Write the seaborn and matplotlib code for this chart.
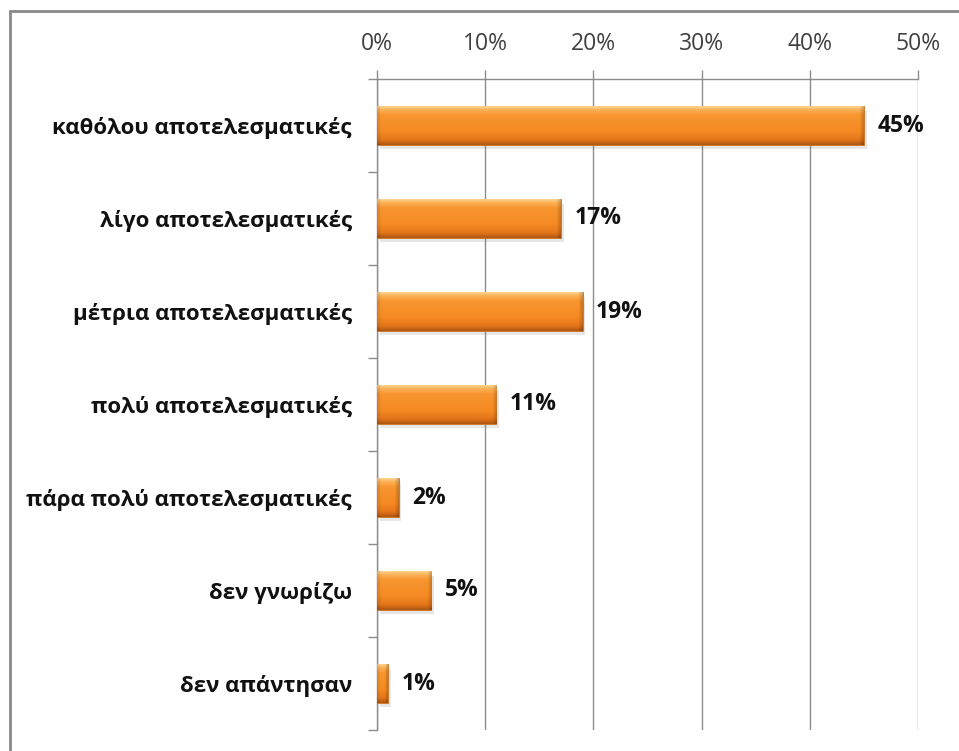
import numpy as np
import pandas as pd
import matplotlib
matplotlib.use("Agg")
import matplotlib.pyplot as plt
import matplotlib.patches as mpatches
import matplotlib.patheffects as pe
import seaborn as sns

# Survey answers and share of respondents (%)
categories = [
    "καθόλου αποτελεσματικές",
    "λίγο αποτελεσματικές",
    "μέτρια αποτελεσματικές",
    "πολύ αποτελεσματικές",
    "πάρα πολύ αποτελεσματικές",
    "δεν γνωρίζω",
    "δεν απάντησαν",
]
values = [45, 17, 19, 11, 2, 5, 1]
x_ticks = [0, 10, 20, 30, 40, 50]
x_tick_labels = ["0%", "10%", "20%", "30%", "40%", "50%"]

df = pd.DataFrame({"answer": categories, "share": values})

sns.set_theme(style="white")
plt.rcParams["font.family"] = ["Open Sans", "DejaVu Sans"]

W, H = 959, 751
fig = plt.figure(figsize=(W / 100, H / 100), dpi=100)
left, right, top, bottom = 377, 918, 79, 730
ax = fig.add_axes([left / W, (H - bottom) / H, (right - left) / W, (bottom - top) / H])

sns.barplot(data=df, x="share", y="answer", orient="h", color="#F38B2C",
            width=0.41, ax=ax, zorder=3, saturation=1)

ax.set_xlim(0, 50)
ax.set_ylim(len(categories) - 0.5, -0.5)

grid_col = "#8C8C8C"
ax.xaxis.tick_top()
ax.set_xticks(x_ticks)
ax.set_xticklabels(x_tick_labels, fontsize=16.5, color="#404040")
ax.tick_params(axis="x", which="major", direction="out", length=6.5, width=1,
               color=grid_col, pad=10)
ax.grid(axis="x", color=grid_col, linewidth=1, zorder=0)
ax.grid(axis="y", visible=False)

ax.set_yticks(range(len(categories)))
ax.set_yticklabels(categories, fontsize=16, fontweight="bold", color="#111111")
ax.set_yticks(np.arange(-0.5, len(categories), 1), minor=True)
ax.tick_params(axis="y", which="major", length=0, pad=18)
ax.tick_params(axis="y", which="minor", direction="out", length=6.5, width=1,
               color=grid_col, left=True)
ax.set_xlabel("")
ax.set_ylabel("")

for side in ["right", "bottom"]:
    ax.spines[side].set_visible(False)
for side in ["left", "top"]:
    ax.spines[side].set_color(grid_col)
    ax.spines[side].set_linewidth(1)

# Bevelled orange fill for every bar
fig.canvas.draw()
stops_t = np.array([0.0, 0.08, 0.22, 0.65, 0.87, 1.0])
stops_c = np.array([
    [253, 210, 140],
    [251, 178, 88],
    [248, 150, 48],
    [245, 138, 34],
    [228, 118, 26],
    [178, 88, 18],
]) / 255.0

for patch, val in zip(ax.patches, values):
    x0, y0 = patch.get_x(), patch.get_y()
    w, h = patch.get_width(), patch.get_height()
    (px0, py0), (px1, py1) = ax.transData.transform([(x0, y0), (x0 + w, y0 + h)])
    pw = max(int(round(abs(px1 - px0))), 2)
    ph = max(int(round(abs(py1 - py0))), 2)
    t = np.linspace(0, 1, ph)
    col = np.stack([np.interp(t, stops_t, stops_c[:, k]) for k in range(3)], axis=1)
    img = np.repeat(col[:, None, :], pw, axis=1)
    # darker left and right bevel edges
    edge = np.ones(pw)
    e = min(4, pw // 3)
    if e > 0:
        edge[:e] = np.linspace(0.88, 0.97, e)
        edge[-e:] = np.linspace(0.95, 0.82, e)
    img = np.clip(img * edge[None, :, None], 0, 1)
    patch.set_path_effects([pe.SimplePatchShadow(offset=(2, -3), alpha=0.18,
                                                 shadow_rgbFace="#777777"),
                            pe.Normal()])
    patch.set_edgecolor("#C8701E")
    patch.set_linewidth(0.6)
    im = ax.imshow(img, extent=[x0, x0 + w, y0 + h, y0], aspect="auto",
                   interpolation="bilinear", zorder=4)
    im.set_clip_path(patch)
    ax.text(x0 + w + 1.25, y0 + h / 2, f"{val}%", va="center", ha="left",
            fontsize=16.5, fontweight="bold", color="#111111", zorder=5)

ax.set_xlim(0, 50)
ax.set_ylim(len(categories) - 0.5, -0.5)

# Chart frame
fig.patches.append(mpatches.Rectangle((9.5 / W, -0.05), 1.1, (H - 10.5) / H + 0.05,
                                      transform=fig.transFigure, fill=False,
                                      edgecolor="#888888", linewidth=2))

fig.savefig("out.png", dpi=100)
